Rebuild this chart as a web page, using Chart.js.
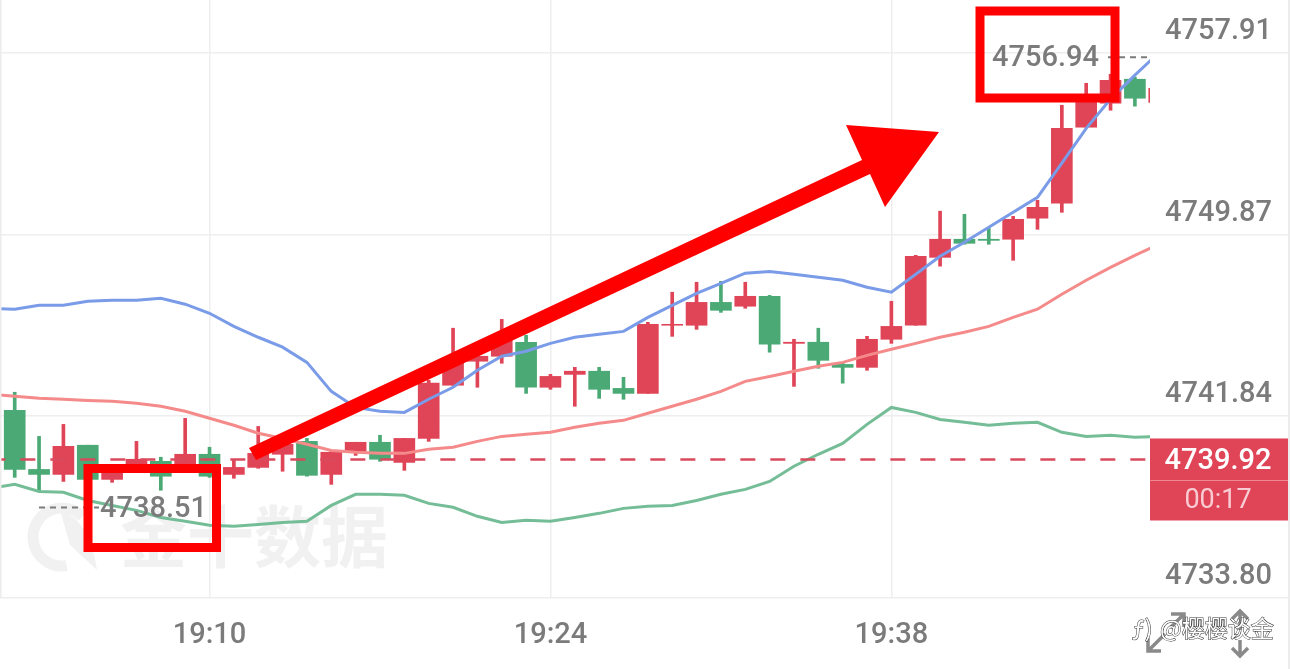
<!DOCTYPE html>
<html>
<head>
<meta charset="utf-8">
<title>4739.92</title>
<script src="https://cdn.jsdelivr.net/npm/chart.js@4"></script>
<style>
  html, body { margin: 0; padding: 0; background: #fff; overflow: hidden; }
  canvas { display: block; }
</style>
</head>
<body>
<canvas id="price-chart" width="1290" height="669"></canvas>
<script>
const times = ["19:01","19:02","19:03","19:04","19:05","19:06","19:07","19:08","19:09","19:10",
  "19:11","19:12","19:13","19:14","19:15","19:16","19:17","19:18","19:19","19:20",
  "19:21","19:22","19:23","19:24","19:25","19:26","19:27","19:28","19:29","19:30",
  "19:31","19:32","19:33","19:34","19:35","19:36","19:37","19:38","19:39","19:40",
  "19:41","19:42","19:43","19:44","19:45","19:46","19:47","19:48","19:49"];
const opens = [null,4742.09,4739.48,4739.26,4740.55,4739.04,4739.44,4739.84,4739.44,4740.15,
  4739.26,4739.57,4740.15,4740.72,4739.26,4740.24,4740.68,4739.79,4740.85,4743.20,
  4744.26,4744.48,4745.10,4743.11,4743.68,4743.82,4743.06,4742.84,4745.85,4745.85,
  4746.86,4746.69,4747.13,4745.05,4745.10,4744.12,4743.99,4745.23,4745.85,4748.85,
  4749.65,4749.65,4749.65,4750.58,4751.24,4754.60,4755.66,4756.72,4755.70];
const highs = [null,4742.89,4740.94,4741.47,4740.55,4739.35,4740.72,4740.02,4741.74,4740.46,
  4739.88,4741.38,4740.77,4740.85,4740.32,4740.68,4740.99,4740.85,4743.42,4745.72,
  4744.74,4746.11,4745.41,4743.68,4743.99,4743.99,4743.55,4745.98,4747.31,4747.75,
  4747.79,4747.75,4747.17,4745.23,4745.72,4744.21,4745.36,4746.91,4748.94,4750.89,
  4750.75,4750.13,4750.66,4751.37,4755.57,4756.54,4756.94,4756.81,4756.32];
const lows = [null,4739.13,4738.51,4738.95,4739.04,4738.91,4739.35,4738.56,4739.35,4739.13,
  4739.09,4739.53,4739.40,4739.18,4738.82,4740.10,4739.84,4739.44,4740.72,4743.20,
  4743.11,4744.17,4742.84,4743.02,4742.27,4742.62,4742.58,4742.84,4745.36,4745.67,
  4746.42,4746.60,4744.66,4743.15,4743.95,4743.29,4743.86,4745.05,4745.85,4748.46,
  4749.43,4749.43,4748.72,4750.09,4750.84,4754.60,4755.35,4755.53,4755.70];
const closes = [null,4739.48,4739.26,4740.50,4739.04,4739.31,4739.93,4739.18,4740.15,4739.18,
  4739.57,4740.19,4740.59,4739.22,4740.24,4740.68,4739.93,4740.85,4743.29,4744.43,
  4744.48,4745.19,4743.11,4743.59,4743.82,4743.02,4742.84,4745.89,4745.89,4746.86,
  4746.51,4747.13,4745.01,4745.10,4744.30,4743.99,4745.23,4745.80,4748.90,4749.65,
  4749.47,4749.60,4750.53,4751.06,4754.55,4755.92,4756.67,4755.88,4756.32];
const upperBand = [4746.60,4746.56,4746.73,4746.73,4746.91,4746.95,4746.95,4747.04,4746.78,4746.38,
  4745.80,4745.32,4744.88,4744.21,4742.93,4742.22,4742.05,4742.00,4742.58,4743.11,
  4743.86,4744.48,4744.70,4745.05,4745.32,4745.45,4745.58,4746.20,4746.73,4747.26,
  4747.70,4748.15,4748.23,4748.10,4747.97,4747.84,4747.53,4747.31,4748.10,4748.90,
  4749.52,4750.18,4750.84,4751.50,4753.01,4754.55,4755.84,4756.90,4757.91];
const middleBand = [4742.80,4742.71,4742.62,4742.58,4742.53,4742.49,4742.40,4742.27,4742.05,4741.74,
  4741.43,4741.08,4740.85,4740.59,4740.32,4740.24,4740.19,4740.19,4740.37,4740.46,
  4740.72,4740.94,4741.03,4741.12,4741.34,4741.52,4741.65,4741.96,4742.27,4742.58,
  4742.93,4743.37,4743.59,4743.82,4744.04,4744.21,4744.52,4744.79,4745.05,4745.32,
  4745.54,4745.80,4746.20,4746.56,4747.22,4747.84,4748.41,4748.94,4749.43];
const lowerBand = [4738.65,4738.82,4738.51,4738.47,4738.11,4737.89,4737.67,4737.36,4737.19,4737.01,
  4736.97,4737.05,4737.14,4737.19,4737.89,4738.38,4738.38,4738.34,4737.98,4737.81,
  4737.41,4737.14,4737.23,4737.19,4737.36,4737.54,4737.76,4737.85,4737.89,4738.11,
  4738.38,4738.60,4738.95,4739.62,4740.15,4740.63,4741.47,4742.22,4742.00,4741.69,
  4741.56,4741.43,4741.52,4741.56,4741.12,4740.94,4740.99,4740.90,4740.94];
const timeTicks = [9, 23, 37];
const priceTicks = [4733.80, 4741.84, 4749.87, 4757.91];
const lastPrice = 4739.92;
const countdown = "00:17";

const RED = "#e04457";
const GREEN = "#4aa974";
const GREY = "#7b7b7b";
const GRID = "#eeeeee";
const LABEL_FONT = "500 29px Roboto";

const candleColor = (ctx) =>
  closes[ctx.dataIndex] >= opens[ctx.dataIndex] ? RED : GREEN;

const toPoints = (values) => values.map((v, i) => ({ x: i, y: v }));

function lineSet(values, color) {
  return {
    type: "line",
    data: toPoints(values),
    borderColor: color,
    borderWidth: 3,
    pointRadius: 0,
    tension: 0,
    order: 1,
  };
}

// watermark sits under the candles
const watermark = {
  id: "watermark",
  beforeDatasetsDraw(chart) {
    const c = chart.ctx;
    c.save();
    c.fillStyle = "#f1f1f1";
    c.strokeStyle = "#f1f1f1";
    c.lineWidth = 11;
    c.beginPath();
    c.arc(62, 537, 29, Math.PI * 0.45, Math.PI * 1.75);
    c.stroke();
    c.beginPath();
    c.moveTo(60, 510);
    c.quadraticCurveTo(90, 520, 97, 570);
    c.lineTo(70, 545);
    c.closePath();
    c.fill();
    c.font = "bold 67px 'Noto Sans CJK SC'";
    c.textBaseline = "middle";
    c.fillText("金十数据", 120, 537);
    c.restore();
  },
};

// everything painted over the chart: price box, high/low labels, red marks
const overlay = {
  id: "overlay",
  afterDraw(chart) {
    const c = chart.ctx;
    const y = chart.scales.y;
    const area = chart.chartArea;
    const lowest = Math.min(...lows.filter((v) => v !== null));
    const highest = Math.max(...highs.filter((v) => v !== null));
    c.save();

    // thin strips at the screenshot edges
    c.fillStyle = "#ececec";
    c.fillRect(0, 0, 1.5, area.bottom);
    c.fillRect(1288, 0, 2, 669);

    // last price box
    const py = y.getPixelForValue(lastPrice);
    c.fillStyle = RED;
    c.fillRect(area.right, py - 21, 138, 82);
    c.fillStyle = "#ee8a96";
    c.fillRect(area.right, py + 20.5, 138, 1);
    c.textAlign = "center";
    c.textBaseline = "middle";
    c.font = LABEL_FONT;
    c.fillStyle = "#ffffff";
    c.fillText(lastPrice.toFixed(2), area.right + 68, py + 2);
    c.font = "27px Roboto";
    c.fillStyle = "#f8ccd2";
    c.fillText(countdown, area.right + 68, py + 42);

    // lowest and highest labels with their leaders
    const minY = y.getPixelForValue(lowest) + 16;
    const maxY = y.getPixelForValue(highest) - 17;
    c.fillStyle = GREY;
    c.font = LABEL_FONT;
    c.textAlign = "left";
    c.fillText(lowest.toFixed(2), 100, minY + 2);
    c.fillText(highest.toFixed(2), 992, maxY + 2);
    c.strokeStyle = GREY;
    c.lineWidth = 2;
    c.setLineDash([6, 5]);
    c.beginPath();
    c.moveTo(39, minY);
    c.lineTo(99, minY);
    c.moveTo(1108, maxY);
    c.lineTo(1150, maxY);
    c.stroke();
    c.setLineDash([]);

    // red boxes and arrow
    c.strokeStyle = "#ff0000";
    c.lineWidth = 9;
    c.strokeRect(88, 468.5, 128.5, 79);
    c.strokeRect(980, 11, 135, 87);
    c.fillStyle = "#ff0000";
    c.beginPath();
    c.moveTo(249, 448);
    c.lineTo(862, 160);
    c.lineTo(846, 125);
    c.lineTo(939, 132);
    c.lineTo(885, 207);
    c.lineTo(870, 174);
    c.lineTo(256, 460);
    c.closePath();
    c.fill();

    // resize icons
    c.strokeStyle = "#8a8a8a";
    c.lineWidth = 3.5;
    c.beginPath();
    c.moveTo(1148, 651);
    c.lineTo(1165, 634);
    c.moveTo(1148, 638);
    c.lineTo(1148, 651);
    c.lineTo(1161, 651);
    c.moveTo(1170, 628);
    c.lineTo(1184, 614);
    c.moveTo(1171, 614);
    c.lineTo(1184, 614);
    c.lineTo(1184, 627);
    c.moveTo(1240, 612);
    c.lineTo(1240, 630);
    c.moveTo(1232, 619);
    c.lineTo(1240, 611);
    c.lineTo(1248, 619);
    c.moveTo(1240, 640);
    c.lineTo(1240, 656);
    c.moveTo(1232, 648);
    c.lineTo(1240, 656);
    c.lineTo(1248, 648);
    c.stroke();

    // account watermark, white with a dark edge
    c.font = "23px 'Noto Sans CJK SC'";
    c.textAlign = "left";
    c.lineWidth = 1;
    c.strokeStyle = "#333333";
    c.fillStyle = "#ffffff";
    c.strokeText("ƒ)", 1132, 628);
    c.fillText("ƒ)", 1132, 628);
    c.strokeText("@樱樱谈金", 1160, 628);
    c.fillText("@樱樱谈金", 1160, 628);
    c.restore();
  },
};

const ctx = document.getElementById("price-chart").getContext("2d");
new Chart(ctx, {
  data: {
    datasets: [
      {
        type: "bar",
        data: times.map((t, i) => ({ x: i, y: lows[i] === null ? null : [lows[i], highs[i]] })),
        backgroundColor: candleColor,
        barThickness: 3,
        grouped: false,
        order: 3,
      },
      {
        type: "bar",
        data: times.map((t, i) => ({ x: i, y: opens[i] === null ? null : [opens[i], closes[i]] })),
        backgroundColor: candleColor,
        barThickness: 21,
        grouped: false,
        order: 2,
      },
      lineSet(upperBand, "#7a9be8"),
      lineSet(middleBand, "#f58a8a"),
      lineSet(lowerBand, "#74bd97"),
      {
        type: "line",
        data: times.map((t, i) => ({ x: i, y: lastPrice })),
        borderColor: "#d94a5c",
        borderWidth: 2.5,
        borderDash: [15, 15],
        pointRadius: 0,
        order: 0,
      },
    ],
  },
  options: {
    responsive: false,
    animation: false,
    layout: { padding: 0, autoPadding: false },
    plugins: { legend: { display: false }, tooltip: { enabled: false } },
    scales: {
      x: {
        type: "linear",
        offset: false,
        min: 0.396,
        max: 47.62,
        grid: { offset: false, color: GRID, lineWidth: 1.5, drawTicks: false },
        border: { display: false },
        afterBuildTicks(axis) {
          axis.ticks = timeTicks.map((v) => ({ value: v }));
        },
        afterFit(axis) {
          axis.height = 71;
        },
        ticks: {
          autoSkip: false,
          maxRotation: 0,
          padding: 20,
          color: GREY,
          font: { family: "Roboto", size: 29, weight: "500" },
          callback: (v) => times[v],
        },
      },
      y: {
        position: "right",
        min: 4733.8,
        max: 4760.22,
        grid: { color: GRID, lineWidth: 1.5, tickLength: 140, tickColor: GRID },
        border: { display: false },
        afterBuildTicks(axis) {
          axis.ticks = priceTicks.map((v) => ({ value: v }));
        },
        afterFit(axis) {
          axis.width = 140;
        },
        ticks: {
          autoSkip: false,
          padding: -125,
          labelOffset: -21,
          color: GREY,
          font: { family: "Roboto", size: 29, weight: "500" },
          callback: (v) => v.toFixed(2),
        },
      },
    },
  },
  plugins: [watermark, overlay],
});
</script>
</body>
</html>
